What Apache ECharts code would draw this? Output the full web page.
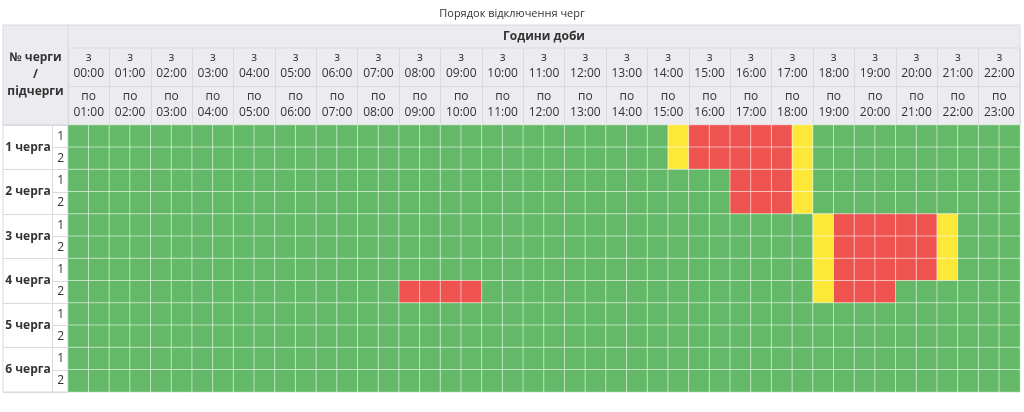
<!DOCTYPE html>
<html><head><meta charset="utf-8">
<script src="https://cdn.jsdelivr.net/npm/echarts@6/dist/echarts.min.js"></script>
<style>html,body{margin:0;padding:0;background:#fff}#c{width:1024px;height:412px}</style>
</head><body><div id="c"></div>
<script>
// half-hour cells: 46 columns (00:00 .. 23:00), 12 rows (queue/subqueue)
const fromLabels = ['00:00','01:00','02:00','03:00','04:00','05:00','06:00','07:00','08:00','09:00','10:00','11:00','12:00','13:00','14:00','15:00','16:00','17:00','18:00','19:00','20:00','21:00','22:00'];
const toLabels = ['01:00','02:00','03:00','04:00','05:00','06:00','07:00','08:00','09:00','10:00','11:00','12:00','13:00','14:00','15:00','16:00','17:00','18:00','19:00','20:00','21:00','22:00','23:00'];
const queues = ['1 черга','2 черга','3 черга','4 черга','5 черга','6 черга'];
const subqueues = ['1','2','1','2','1','2','1','2','1','2','1','2'];
// 0 = power on, 1 = outage, 2 = possible outage
const row1_1 = ['0000000000','0000000000','000000000','2111112','0000000000'].join('');
const row1_2 = ['0000000000','0000000000','000000000','2111112','0000000000'].join('');
const row2_1 = ['0000000000','0000000000','0000000000','00','1112','0000000000'].join('');
const row2_2 = ['0000000000','0000000000','0000000000','00','1112','0000000000'].join('');
const row3_1 = ['0000000000','0000000000','0000000000','000000','2111112','000'].join('');
const row3_2 = ['0000000000','0000000000','0000000000','000000','2111112','000'].join('');
const row4_1 = ['0000000000','0000000000','0000000000','000000','2111112','000'].join('');
const row4_2 = ['0000000000','000000','1111','0000000000','000000','2111','000000'].join('');
const row5_1 = ['0000000000','0000000000','0000000000','0000000000','000000'].join('');
const row5_2 = ['0000000000','0000000000','0000000000','0000000000','000000'].join('');
const row6_1 = ['0000000000','0000000000','0000000000','0000000000','000000'].join('');
const row6_2 = ['0000000000','0000000000','0000000000','0000000000','000000'].join('');
const rows = [row1_1,row1_2,row2_1,row2_2,row3_1,row3_2,row4_1,row4_2,row5_1,row5_2,row6_1,row6_2];

const cells = [];
rows.forEach((r, y) => { for (let x = 0; x < r.length; x++) cells.push([x, y, +r[x]]); });
const halfCats = []; for (let i = 0; i < 46; i++) halfCats.push(String(i));

const L = 68, R = 1020, T = 125, B = 392;
const grid = '#d9d9de', txt = '#333', ff = 'Open Sans';
const chart = echarts.init(document.getElementById('c'));
chart.setOption({
  animation: false,
  textStyle: {fontFamily: ff},
  title: {text: 'Порядок відключення черг', left: 'center', top: 3, textStyle: {fontSize: 11, fontWeight: 'normal', color: txt, fontFamily: ff}},
  graphic: [
    {type: 'rect', z: -1, shape: {x: 3, y: 25, width: R - 3, height: T - 25}, style: {fill: '#ececf0', stroke: grid}},
    {type: 'rect', z: -1, shape: {x: 3, y: T, width: L - 3, height: B - T}, style: {fill: '#fff', stroke: grid}},
    {type: 'line', z: 5, shape: {x1: L, y1: 25, x2: L, y2: T}, style: {stroke: grid}},
    {type: 'line', z: 5, shape: {x1: L, y1: 48, x2: R, y2: 48}, style: {stroke: grid}},
    {type: 'text', z: 5, x: (3 + L) / 2, y: 75, style: {text: '№ черги\n/\nпідчерги', align: 'center', verticalAlign: 'middle', fontSize: 12, lineHeight: 17, fontWeight: 'bold', fill: txt, fontFamily: ff}},
    {type: 'text', z: 5, x: (L + R) / 2, y: 37, style: {text: 'Години доби', align: 'center', verticalAlign: 'middle', fontSize: 12, fontWeight: 'bold', fill: txt, fontFamily: ff}}
  ],
  grid: {left: L, right: 1024 - R, top: T, bottom: 412 - B},
  xAxis: [
    {type: 'category', data: halfCats, show: false},
    {type: 'category', data: toLabels, position: 'top', offset: 0,
      axisLine: {show: true, lineStyle: {color: grid}}, axisTick: {show: true, length: 39, lineStyle: {color: grid}},
      axisLabel: {margin: 4, formatter: v => 'по\n' + v, fontSize: 12, lineHeight: 16, color: txt}},
    {type: 'category', data: fromLabels, position: 'top', offset: 39,
      axisLine: {show: true, lineStyle: {color: grid}}, axisTick: {show: true, length: 38, lineStyle: {color: grid}},
      axisLabel: {margin: 4, formatter: v => 'з\n' + v, fontSize: 12, lineHeight: 16, color: txt}}
  ],
  yAxis: [
    {type: 'category', data: subqueues.map((s, i) => i + ':' + s), inverse: true, position: 'left', offset: 0,
      axisLine: {show: true, lineStyle: {color: grid}}, axisTick: {show: true, length: 16, lineStyle: {color: grid}},
      axisLabel: {margin: 4, formatter: v => v.split(':')[1], fontSize: 12, color: txt}},
    {type: 'category', data: queues, inverse: true, position: 'left', offset: 16,
      axisLine: {show: true, lineStyle: {color: grid}}, axisTick: {show: true, length: 49, lineStyle: {color: grid}},
      axisLabel: {margin: 24, align: 'center', fontSize: 12, fontWeight: 'bold', color: txt}}
  ],
  visualMap: {show: false, type: 'piecewise', dimension: 2,
    pieces: [{value: 0, color: '#63b967'}, {value: 1, color: '#ef5350'}, {value: 2, color: '#fde83a'}]},
  series: [{type: 'heatmap', xAxisIndex: 0, yAxisIndex: 0, data: cells,
    itemStyle: {borderColor: 'rgba(255,255,255,0.55)', borderWidth: 1}}]
});
</script></body></html>
